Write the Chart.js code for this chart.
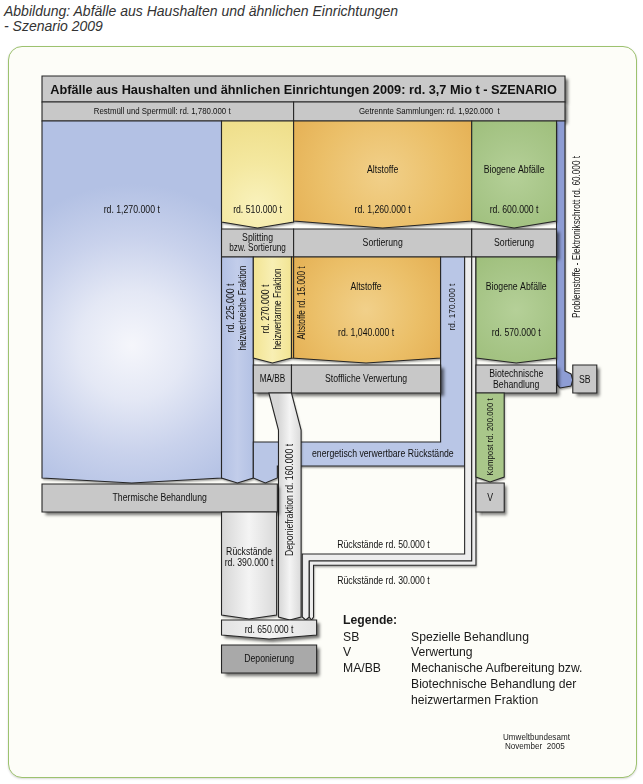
<!DOCTYPE html>
<html lang="de">
<head>
<meta charset="utf-8">
<title>Abfälle aus Haushalten und ähnlichen Einrichtungen - Szenario 2009</title>
<script src="https://cdn.jsdelivr.net/npm/chart.js@4.4.1/dist/chart.umd.min.js"></script>
<style>
  body { margin: 0; background: #fff; }
  #wrap { position: relative; width: 643px; height: 784px; overflow: hidden; font-family: "Liberation Sans", Arial, sans-serif; color: #222; }
  #caption { position: absolute; left: 4px; top: 4px; font-style: italic; font-size: 14px; line-height: 15px; color: #333; }
  #frame { position: absolute; left: 8px; top: 46px; width: 627px; height: 730px; border: 1.5px solid #9dc26f; border-radius: 14px; background: #fdfdf8; box-shadow: 0 1px 2px rgba(0,0,0,0.15); }
  #chart { position: absolute; left: 0; top: 0; }
  .leg { position: absolute; font-size: 12.2px; line-height: 16px; color: #1a1a1a; white-space: nowrap; }
  .src { position: absolute; left: 503px; font-size: 9.5px; line-height: 10px; color: #222; transform: scaleX(0.85); transform-origin: left top; white-space: nowrap; }
</style>
</head>
<body>
<div id="wrap">
  <div id="caption">Abbildung: Abfälle aus Haushalten und ähnlichen Einrichtungen<br>- Szenario 2009</div>
  <div id="frame"></div>
  <canvas id="chart" width="643" height="784"></canvas>
  <div class="leg" style="left:343px;top:612px;font-weight:bold;">Legende:</div>
  <div class="leg" style="left:343px;top:629px;">SB</div>
  <div class="leg" style="left:411px;top:629px;">Spezielle Behandlung</div>
  <div class="leg" style="left:343px;top:644px;">V</div>
  <div class="leg" style="left:411px;top:644px;">Verwertung</div>
  <div class="leg" style="left:343px;top:660px;">MA/BB</div>
  <div class="leg" style="left:411px;top:660px;">Mechanische Aufbereitung bzw.<br>Biotechnische Behandlung der<br>heizwertarmen Fraktion</div>
  <div class="src" style="top:732px;">Umweltbundesamt</div>
  <div class="src" style="top:741px;left:505px;">November&nbsp; 2005</div>
</div>
<script>
// Mengen in 1000 t
const kopfTitel = 'Abfälle aus Haushalten und ähnlichen Einrichtungen 2009: rd. 3,7 Mio t - SZENARIO';
const gruppenLabels = ['Restmüll und Sperrmüll: rd. 1,780.000 t', 'Getrennte Sammlungen: rd. 1,920.000  t'];
const gruppenMengen = [1780, 1920];
const quellMengen = [1270, 510, 1260, 600, 60];  // Restmüll, Splitting, Altstoffe, Biogene, Problemstoffe
const quellTitel = ['', '', 'Altstoffe', 'Biogene Abfälle', ''];
const quellLabels = ['rd. 1,270.000 t', 'rd. 510.000 t', 'rd. 1,260.000 t', 'rd. 600.000 t', 'Problemstoffe - Elektronikschrott rd. 60.000 t'];
const splittingMengen = [225, 270, 15];           // heizwertreich, heizwertarm, Altstoffe
const splittingLabels = [['rd. 225.000 t', 'heizwertreiche Fraktion'], ['rd. 270.000 t', 'heizwertarme Fraktion'], ['Altstoffe rd. 15.000 t']];
const altstoffMengen = [1040, 170, 50];           // stofflich, energetisch, Rückstände
const altstoffLabels = ['rd. 1,040.000 t', 'rd. 170.000 t', 'Rückstände rd. 50.000 t'];
const biogenMengen = [570, 30];                    // Biotechnik, Rückstände
const biogenLabels = ['rd. 570.000 t', 'Rückstände rd. 30.000 t'];
const kompostMenge = 200;
const kompostLabel = 'Kompost rd. 200.000 t';
const deponieFraktion = 160;
const deponieFraktionLabel = 'Deponiefraktion rd. 160.000 t';
const thermRueckstaende = 390;
const thermRueckLabels = ['Rückstände', 'rd. 390.000 t'];
const deponieMenge = 650;
const deponieLabel = 'rd. 650.000 t';
const anlagen = ['Splitting|bzw. Sortierung', 'Sortierung', 'Sortierung', 'MA/BB', 'Stoffliche Verwertung',
  'Biotechnische|Behandlung', 'SB', 'V', 'Thermische Behandlung', 'Deponierung', 'energetisch verwertbare Rückstände'];

// Layout
const GESAMT = quellMengen.reduce((a, b) => a + b, 0);
const PX_LEFT = 42, PX_RIGHT = 565;
const KT = (PX_RIGHT - PX_LEFT) / GESAMT;
const ROW = {
  title: 76, sub: 102, top: 121, topEnd: 228, sort: 229, sortEnd: 257, row3End: 363,
  proc: 365, procEnd: 393, diag: 430, band: 442, flowEnd: 483, therm: 484, thermEnd: 512,
  r50: 554, depTop: 620, depEnd: 639, depo: 645, depoEnd: 673
};
const LINE = '#262626';
const FONT = '"Liberation Sans", Arial, sans-serif';
const NARROW = 0.87;

// x positions from cumulative amounts
const xRest1 = quellMengen[0];
const xSplit1 = xRest1 + quellMengen[1];
const xAlt1 = xSplit1 + quellMengen[2];
const xBio1 = xAlt1 + quellMengen[3];
const xProb1 = xBio1 + quellMengen[4];
const xHr1 = xRest1 + splittingMengen[0];
const xHa1 = xHr1 + splittingMengen[1];
const xStoff1 = xSplit1 + altstoffMengen[0];
const xEn1 = xStoff1 + altstoffMengen[1];
const x30 = xAlt1 + biogenMengen[1];
const xTherm1 = xHr1 + altstoffMengen[1];
const xDep0 = xTherm1 + 8, xDep1 = xDep0 + deponieFraktion;
const x50a = xDep1 + 8, x50b = x50a + altstoffMengen[2], x30b = x50b + biogenMengen[1];
const xDepo1 = x30b + 22;
const xSB0 = xProb1 + 55, xSB1 = xSB0 + 170;

const diagramm = {
  id: 'diagramm',
  afterDraw(chart) {
    const ctx = chart.ctx;
    const sx = chart.scales.x, sy = chart.scales.y;
    const X = v => sx.getPixelForValue(v);
    const Y = v => sy.getPixelForValue(v);
    const TH = v => (X(v) - X(0)) / Math.abs(Y(1) - Y(0));

    function path(pts) {
      ctx.beginPath();
      pts.forEach(([x, y], i) => i ? ctx.lineTo(X(x), Y(y)) : ctx.moveTo(X(x), Y(y)));
      ctx.closePath();
    }
    function shape(pts, fill, sh) {
      ctx.save();
      path(pts);
      if (sh) {
        ctx.shadowColor = sh[0]; ctx.shadowOffsetX = sh[1]; ctx.shadowOffsetY = sh[2]; ctx.shadowBlur = sh[3];
      }
      ctx.fillStyle = fill;
      ctx.fill();
      ctx.restore();
      path(pts);
      ctx.strokeStyle = LINE; ctx.lineWidth = 1.1; ctx.stroke();
    }
    const HARD = ['rgba(0,0,0,0.55)', 3, 3, 3];
    const SOFT = ['rgba(0,0,0,0.35)', 1, 2, 2];
    const rect = (x0, x1, y0, y1) => [[x0, y0], [x1, y0], [x1, y1], [x0, y1]];
    const chev = (x0, x1, y0, y1, tip = 5) => [[x0, y0], [x1, y0], [x1, y1 - tip], [(x0 + x1) / 2, y1], [x0, y1 - tip]];
    function radial(x0, x1, y0, y1, stops, fy = 0.5, fr = 0.75) {
      const cx = X((x0 + x1) / 2), cy = Y(y0 + (y1 - y0) * fy);
      const r = Math.abs(X(x1) - X(x0)) * fr;
      const g = ctx.createRadialGradient(cx, cy, 0, cx, cy, r);
      stops.forEach((c, i) => g.addColorStop(i / (stops.length - 1), c));
      return g;
    }
    function linear(x0, x1, stops) {
      const g = ctx.createLinearGradient(X(x0), 0, X(x1), 0);
      stops.forEach((c, i) => g.addColorStop(i / (stops.length - 1), c));
      return g;
    }
    const GRAY = '#c8c8c8', BLUE = '#b9c6e6', PALE = ['#d6d6d6', '#f4f4f4', '#d9d9d9'];

    // Kopf
    shape(rect(0, xProb1, ROW.title, ROW.sub), '#c9c9c9', HARD);
    shape(rect(0, gruppenMengen[0], ROW.sub, ROW.top), GRAY, HARD);
    shape(rect(gruppenMengen[0], gruppenMengen[0] + gruppenMengen[1], ROW.sub, ROW.top), GRAY, HARD);

    // Problemstoffe -> SB
    shape([[xBio1, ROW.top], [xProb1, ROW.top], [xProb1, 371], [xSB0 - 12, 374], [xSB0, 380],
      [xSB0 - 12, 386], [xBio1 + 25, 388], [xBio1 + 5, 385], [xBio1, 379]], '#8e9dd4', SOFT);

    // Sammelmengen oben
    shape(chev(0, xRest1, ROW.top, ROW.flowEnd), radial(0, xRest1, ROW.top, ROW.flowEnd,
      ['#f5f6fb', '#e4e8f5', '#c9d2ec', '#b3c1e4'], 0.62, 0.9), SOFT);
    shape(chev(xRest1, xSplit1, ROW.top, ROW.topEnd, 6), radial(xRest1, xSplit1, ROW.top, ROW.topEnd,
      ['#f9f2bd', '#f4e8a0', '#efdf8c'], 0.8, 1.2), SOFT);
    shape(chev(xSplit1, xAlt1, ROW.top, ROW.topEnd, 7), radial(xSplit1, xAlt1, ROW.top, ROW.topEnd,
      ['#f1d08a', '#ebbf68', '#e2aa4c'], 0.5, 0.7), SOFT);
    shape(chev(xAlt1, xBio1, ROW.top, ROW.topEnd, 7), radial(xAlt1, xBio1, ROW.top, ROW.topEnd,
      ['#b5d098', '#a9c78a', '#9fbf7c'], 0.5, 0.8), SOFT);

    // Sortierung
    shape(rect(xRest1, xSplit1, ROW.sort, ROW.sortEnd), GRAY, HARD);
    shape(rect(xSplit1, xAlt1, ROW.sort, ROW.sortEnd), GRAY, HARD);
    shape(rect(xAlt1, xBio1, ROW.sort, ROW.sortEnd), GRAY, HARD);

    // Fraktionen
    shape(chev(xRest1, xHr1, ROW.sortEnd, ROW.flowEnd), linear(xRest1, xHr1, ['#b3c1e4', '#c2cdea', '#b3c1e4']), SOFT);
    shape(chev(xHr1, xHa1, ROW.sortEnd, ROW.row3End), linear(xHr1, xHa1, ['#f2e493', '#f8efb4', '#f2e493']), SOFT);
    shape(chev(xHa1, xStoff1, ROW.sortEnd, ROW.row3End), radial(xHa1, xStoff1, ROW.sortEnd, ROW.row3End,
      ['#f1d08a', '#ebbf68', '#e2aa4c'], 0.5, 0.7), SOFT);
    ctx.beginPath();
    ctx.moveTo(X(xSplit1), Y(ROW.sortEnd)); ctx.lineTo(X(xSplit1), Y(ROW.row3End - 5));
    ctx.strokeStyle = LINE; ctx.lineWidth = 1.1; ctx.stroke();

    // energetisch verwertbare Rückstände
    const bandEnd = ROW.band + TH(altstoffMengen[1]);
    shape([[xStoff1, ROW.sortEnd], [xEn1, ROW.sortEnd], [xEn1, bandEnd], [xTherm1, bandEnd], [xTherm1, ROW.flowEnd - 5],
      [(xHr1 + xTherm1) / 2, ROW.flowEnd], [xHr1, ROW.flowEnd - 5], [xHr1, ROW.band], [xStoff1, ROW.band]], BLUE, SOFT);

    // Rückstände 50.000 t und 30.000 t
    const r50End = ROW.r50 + TH(altstoffMengen[2]);
    const r30End = r50End + TH(biogenMengen[1]);
    shape([[xEn1, ROW.sortEnd], [xAlt1, ROW.sortEnd], [xAlt1, r50End], [x50b, r50End], [x50b, ROW.depTop - 3],
      [(x50a + x50b) / 2, ROW.depTop], [x50a, ROW.depTop - 3], [x50a, ROW.r50], [xEn1, ROW.r50]], '#ededed', SOFT);
    shape([[xAlt1, ROW.sortEnd], [x30, ROW.sortEnd], [x30, r30End], [x30b, r30End], [x30b, ROW.depTop - 3],
      [(x50b + x30b) / 2, ROW.depTop], [x50b, ROW.depTop - 3], [x50b, r50End], [xAlt1, r50End]], '#ededed', SOFT);

    // Biogene 570.000 t
    shape(chev(x30, xBio1, ROW.sortEnd, ROW.row3End), radial(x30, xBio1, ROW.sortEnd, ROW.row3End,
      ['#b5d098', '#a9c78a', '#9fbf7c'], 0.5, 0.8), SOFT);

    // Behandlung
    shape(rect(xHr1, xHa1, ROW.proc, ROW.procEnd), GRAY, HARD);
    shape(rect(xHa1, xStoff1, ROW.proc, ROW.procEnd), GRAY, HARD);
    shape(rect(x30, xBio1, ROW.proc, ROW.procEnd), GRAY, HARD);
    shape(rect(xSB0, xSB1, ROW.proc, ROW.procEnd), GRAY, HARD);

    // Kompost -> V
    shape(chev(x30, x30 + kompostMenge, ROW.procEnd, ROW.flowEnd - 1), '#a9c78a', SOFT);
    shape(rect(x30, x30 + kompostMenge, ROW.therm - 1, ROW.thermEnd), GRAY, HARD);

    // Deponiefraktion
    shape([[xHa1 - deponieFraktion, ROW.procEnd], [xHa1, ROW.procEnd], [xDep1, ROW.diag], [xDep1, ROW.depTop - 3],
      [(xDep0 + xDep1) / 2, ROW.depTop], [xDep0, ROW.depTop - 3], [xDep0, ROW.diag]],
      linear(xDep0, xDep1, PALE), SOFT);

    // Thermische Behandlung
    shape(rect(0, xTherm1, ROW.therm, ROW.thermEnd), GRAY, HARD);
    shape(chev(xRest1, xRest1 + thermRueckstaende, ROW.thermEnd, ROW.depTop - 1, 4),
      linear(xRest1, xRest1 + thermRueckstaende, PALE), SOFT);

    // Deponierung
    shape([[xRest1, ROW.depTop], [xDepo1, ROW.depTop], [xDepo1, ROW.depEnd - 4], [(xRest1 + xDepo1) / 2, ROW.depEnd],
      [xRest1, ROW.depEnd - 4]], linear(xRest1, xDepo1, ['#e2e2e2', '#f4f4f4', '#e2e2e2']), HARD);
    shape(rect(xRest1, xDepo1, ROW.depo, ROW.depoEnd), '#a9a9a9', HARD);

    // Texte (schmale Schrift durch horizontale Stauchung)
    function text(str, x, y, o = {}) {
      ctx.save();
      ctx.fillStyle = '#111';
      ctx.font = (o.bold ? 'bold ' : '') + (o.size || 9.6) + 'px ' + FONT;
      ctx.textAlign = 'center';
      ctx.textBaseline = 'middle';
      ctx.translate(X(x), Y(y));
      if (o.rot) ctx.rotate(-Math.PI / 2);
      ctx.translate(0, o.dy || 0);
      ctx.scale(o.sq || NARROW, 1);
      ctx.fillText(str, 0, 0);
      ctx.restore();
    }
    const mid = (a, b) => (a + b) / 2;
    // Titel auf Breite einpassen
    ctx.font = 'bold 14px ' + FONT;
    const tSize = 14 * (X(xProb1) - X(0) - 16) / ctx.measureText(kopfTitel).width;
    text(kopfTitel, mid(0, xProb1), 90, { bold: true, size: tSize, sq: 1 });
    text(gruppenLabels[0], mid(0, gruppenMengen[0]) - 40, 111.5, { sq: 0.82 });
    text(gruppenLabels[1], mid(gruppenMengen[0], xProb1), 111.5, { sq: 0.82 });

    const qx = [0, xRest1, xSplit1, xAlt1, xBio1];
    for (let i = 0; i < 4; i++) {
      if (quellTitel[i]) text(quellTitel[i], mid(qx[i], qx[i + 1]), 170, { size: 10 });
      text(quellLabels[i], mid(qx[i], qx[i + 1]), 210, { size: 10 });
    }
    text(quellLabels[4], xProb1 + 85, 237, { rot: true, size: 10, sq: 0.82 });

    const split = anlagen[0].split('|');
    text(split[0], mid(xRest1, xSplit1), 238.5, { size: 10 });
    text(split[1], mid(xRest1, xSplit1), 248.5, { size: 10, sq: 0.82 });
    text(anlagen[1], mid(xSplit1, xAlt1), 243, { size: 10 });
    text(anlagen[2], mid(xAlt1, xBio1), 243, { size: 10 });

    text(splittingLabels[0][0], mid(xRest1, xHr1), 308, { rot: true, dy: -6, size: 10 });
    text(splittingLabels[0][1], mid(xRest1, xHr1), 308, { rot: true, dy: 6, size: 10, sq: 0.82 });
    text(splittingLabels[1][0], mid(xHr1, xHa1), 309, { rot: true, dy: -6, size: 10 });
    text(splittingLabels[1][1], mid(xHr1, xHa1), 309, { rot: true, dy: 6, size: 10, sq: 0.82 });
    text(splittingLabels[2][0], xSplit1 + 60, 303, { rot: true, size: 10, sq: 0.82 });
    text(quellTitel[2], mid(xHa1, xStoff1), 287, { size: 10 });
    text(altstoffLabels[0], mid(xHa1, xStoff1), 333, { size: 10 });
    text(altstoffLabels[1], mid(xStoff1, xEn1), 307, { rot: true });
    text(quellTitel[3], mid(x30, xBio1), 287, { size: 10 });
    text(biogenLabels[0], mid(x30, xBio1), 333, { size: 10 });

    text(anlagen[3], mid(xHr1, xHa1), 379.5, { size: 10, sq: 0.82 });
    text(anlagen[4], mid(xHa1, xStoff1), 379.5, { size: 10 });
    const bio = anlagen[5].split('|');
    text(bio[0], mid(x30, xBio1), 374, { size: 10 });
    text(bio[1], mid(x30, xBio1), 385, { size: 10 });
    text(anlagen[6], mid(xSB0, xSB1), 380, { size: 10 });

    text(kompostLabel, mid(x30, x30 + kompostMenge), 437, { rot: true, sq: 0.82 });
    text(anlagen[7], mid(x30, x30 + kompostMenge), 498, { size: 10 });
    text(anlagen[10], mid(xDep1, xEn1), mid(ROW.band, bandEnd), { size: 10 });
    text(anlagen[8], mid(0, xTherm1), 498, { size: 10 });
    text(deponieFraktionLabel, mid(xDep0, xDep1), 500, { rot: true, size: 10 });
    text(thermRueckLabels[0], mid(xRest1, xRest1 + thermRueckstaende), 552, { size: 10 });
    text(thermRueckLabels[1], mid(xRest1, xRest1 + thermRueckstaende), 563, { size: 10 });
    text(altstoffLabels[2], mid(x50a, xEn1), 545, { size: 10 });
    text(biogenLabels[1], mid(x50a, xEn1), 581, { size: 10 });
    text(deponieLabel, mid(xRest1, xDepo1), 630.5, { size: 10 });
    text(anlagen[9], mid(xRest1, xDepo1), 659, { size: 10 });
  }
};

new Chart(document.getElementById('chart'), {
  type: 'scatter',
  data: { datasets: [] },
  options: {
    responsive: false,
    animation: false,
    devicePixelRatio: 1,
    events: [],
    layout: { padding: 0 },
    plugins: { legend: { display: false }, tooltip: { enabled: false } },
    scales: {
      x: { type: 'linear', display: false, min: -PX_LEFT / KT, max: (643 - PX_LEFT) / KT },
      y: { type: 'linear', display: false, reverse: true, min: 0, max: 784 }
    }
  },
  plugins: [diagramm]
});
</script>
</body>
</html>
